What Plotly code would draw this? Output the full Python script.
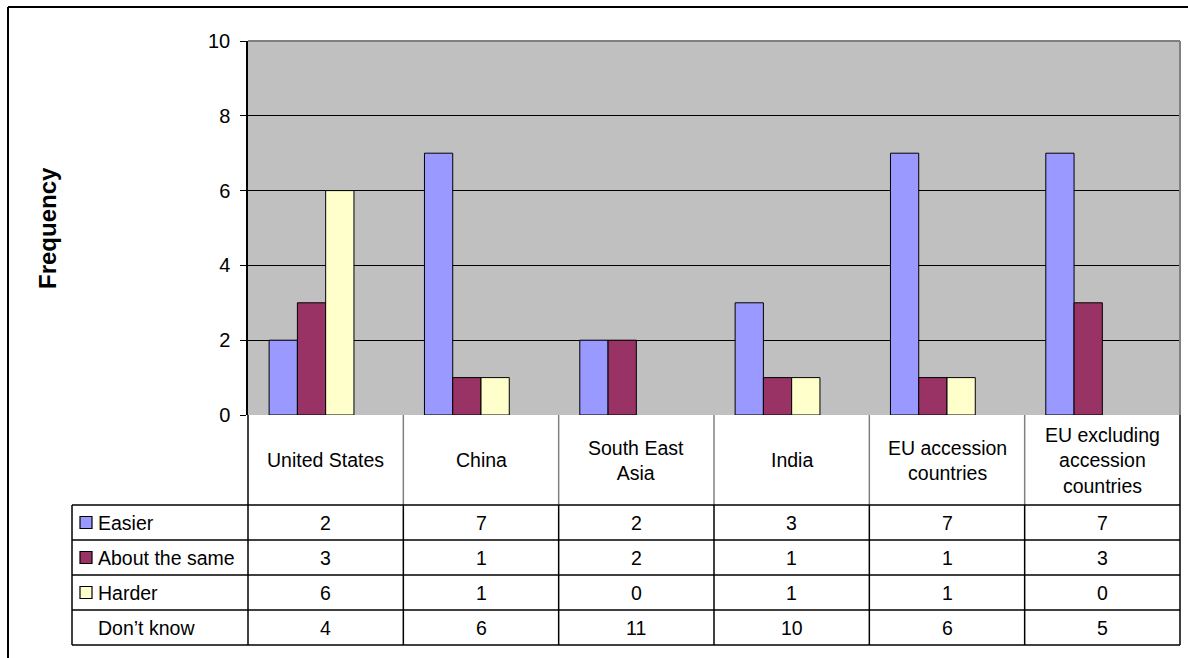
import plotly.graph_objects as go

categories = ["United States", "China", "South East Asia", "India",
              "EU accession countries", "EU excluding accession countries"]
header_labels = ["United States", "China", "South East<br>Asia", "India",
                 "EU accession<br>countries", "EU excluding<br>accession<br>countries"]
series_names = ["Easier", "About the same", "Harder", "Don\u2019t know"]
easier = [2, 7, 2, 3, 7, 7]
about_same = [3, 1, 2, 1, 1, 3]
harder = [6, 1, 0, 1, 1, 0]
dont_know = [4, 6, 11, 10, 6, 5]
y_ticks = [0, 2, 4, 6, 8, 10]

colors = ["#9999FF", "#993366", "#FFFFCC", "rgba(0,0,0,0)"]
values = [easier, about_same, harder, dont_know]

W, H = 1188, 658
L, R, T, B = 248, 1180, 41, 415
FONT = "Liberation Sans, Arial, sans-serif"
TS = 19.5

def px(x):
    return (x - L) / (R - L)

def py(y):
    return (B - y) / (B - T)

fig = go.Figure()
xs = list(range(len(categories)))
for name, vals, col in zip(series_names, values, colors):
    visible_bar = col != "rgba(0,0,0,0)"
    lw = [1 if (visible_bar and v > 0) else 0 for v in vals]
    fig.add_trace(go.Bar(
        x=xs, y=vals, name=name,
        marker=dict(color=col,
                    line=dict(color="black" if visible_bar else "rgba(0,0,0,0)",
                              width=lw)),
        hoverinfo="y+name" if visible_bar else "skip",
        showlegend=False,
    ))

shapes = []
annotations = []

# outer frame (left and top edges visible)
shapes.append(dict(type="line", xref="paper", yref="paper",
                   x0=px(8), x1=px(W + 10), y0=py(7), y1=py(7),
                   line=dict(color="black", width=2)))
shapes.append(dict(type="line", xref="paper", yref="paper",
                   x0=px(8), x1=px(8), y0=py(7), y1=py(H + 10),
                   line=dict(color="black", width=2)))

# plot area top/right border (grey)
shapes.append(dict(type="line", xref="paper", yref="paper",
                   x0=0, x1=1, y0=1, y1=1, line=dict(color="#808080", width=2)))
shapes.append(dict(type="line", xref="paper", yref="paper",
                   x0=1, x1=1, y0=0, y1=1, line=dict(color="#808080", width=2)))

# table geometry
n = len(categories)
col_w = (R - L) / n
col_x = [L + i * col_w for i in range(n + 1)]
header_bottom = 505
row_h = 35
row_y = [header_bottom + i * row_h for i in range(len(series_names) + 1)]
leg_left = 72

# header vertical separators (grey)
for x in col_x[1:-1]:
    shapes.append(dict(type="line", xref="paper", yref="paper",
                       x0=px(x), x1=px(x), y0=py(B), y1=py(header_bottom),
                       line=dict(color="#808080", width=1.5)))
# left and right borders of header
for x in (col_x[0], col_x[-1]):
    shapes.append(dict(type="line", xref="paper", yref="paper",
                       x0=px(x), x1=px(x), y0=py(B), y1=py(header_bottom),
                       line=dict(color="black", width=1.5)))

# body horizontal lines
for y in row_y:
    shapes.append(dict(type="line", xref="paper", yref="paper",
                       x0=px(leg_left), x1=px(R), y0=py(y), y1=py(y),
                       line=dict(color="black", width=1.5)))
# body vertical lines
for x in [leg_left] + col_x:
    shapes.append(dict(type="line", xref="paper", yref="paper",
                       x0=px(x), x1=px(x), y0=py(row_y[0]), y1=py(row_y[-1]),
                       line=dict(color="black", width=1.5)))

# header labels
for i, lab in enumerate(header_labels):
    annotations.append(dict(xref="paper", yref="paper",
                            x=px(col_x[i] + col_w / 2), y=py((B + header_bottom) / 2),
                            text=lab, showarrow=False, align="center",
                            xanchor="center", yanchor="middle",
                            font=dict(family=FONT, size=TS, color="black")))

# body rows
for r, (name, vals, col) in enumerate(zip(series_names, values, colors)):
    yc = row_y[r] + row_h / 2
    if col != "rgba(0,0,0,0)":
        shapes.append(dict(type="rect", xref="paper", yref="paper",
                           x0=px(80), x1=px(92), y0=py(yc - 6), y1=py(yc + 6),
                           fillcolor=col, line=dict(color="black", width=1.2)))
    annotations.append(dict(xref="paper", yref="paper", x=px(96), y=py(yc),
                            text=name, showarrow=False, xanchor="left",
                            yanchor="middle",
                            font=dict(family=FONT, size=TS, color="black")))
    for i, v in enumerate(vals):
        annotations.append(dict(xref="paper", yref="paper",
                                x=px(col_x[i] + col_w / 2), y=py(yc),
                                text=str(v), showarrow=False,
                                xanchor="center", yanchor="middle",
                                font=dict(family=FONT, size=TS, color="black")))

# y axis title
annotations.append(dict(xref="paper", yref="paper", x=px(47), y=0.5,
                        text="<b>Frequency</b>", textangle=-90, showarrow=False,
                        xanchor="center", yanchor="middle",
                        font=dict(family=FONT, size=24, color="black")))

fig.update_layout(
    width=W, height=H,
    margin=dict(l=L, r=W - R, t=T, b=H - B, pad=0),
    paper_bgcolor="white",
    plot_bgcolor="#C0C0C0",
    barmode="group", bargap=0.272, bargroupgap=0,
    font=dict(family=FONT, size=TS, color="black"),
    xaxis=dict(range=[-0.5, n - 0.5], showticklabels=False, ticks="",
               showgrid=False, zeroline=False, showline=False, fixedrange=True),
    yaxis=dict(range=[0, 10], tickvals=y_ticks, ticks="outside", ticklen=6,
               tickcolor="black", tickwidth=1, showline=True, linecolor="black",
               linewidth=1.5, gridcolor="black", gridwidth=1, zeroline=False,
               tickfont=dict(family=FONT, size=20, color="black"),
               ticklabelstandoff=6, fixedrange=True),
    shapes=shapes, annotations=annotations,
)

fig.write_html("out.html")
